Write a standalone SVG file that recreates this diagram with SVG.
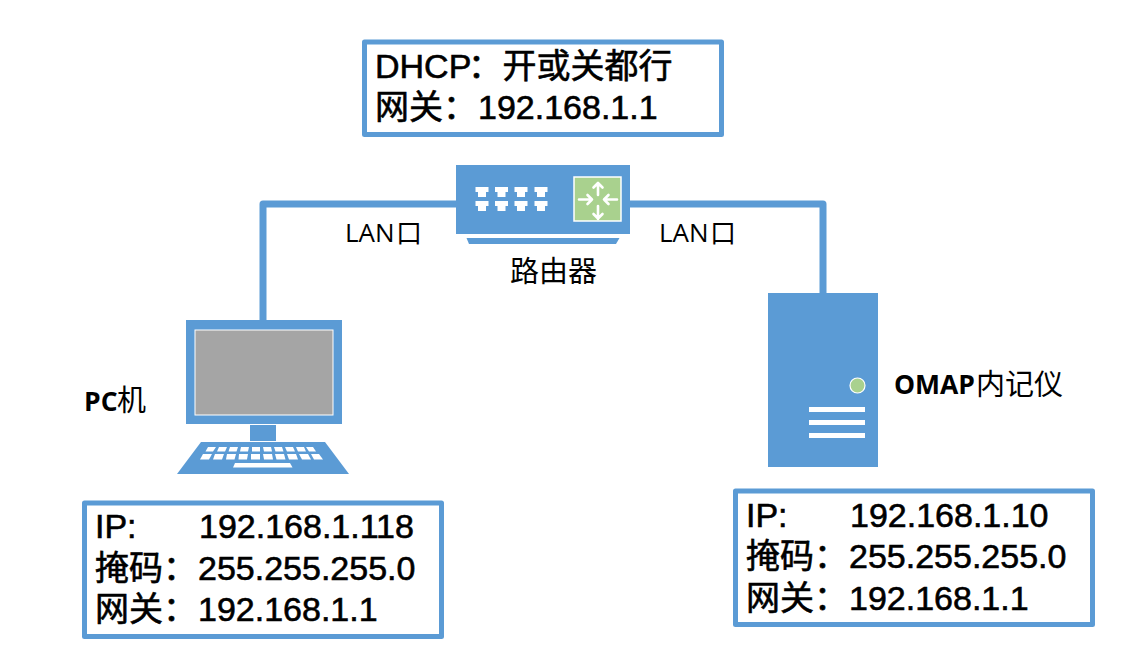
<svg xmlns="http://www.w3.org/2000/svg" width="1140" height="661" viewBox="0 0 1140 661">
<defs>
<style>
.box{fill:#fff;stroke:#5b9bd5;stroke-width:5;stroke-linejoin:round}
.fill{fill:#5b9bd5}
.w{fill:#fff}
.wl{fill:none;stroke:#fff;stroke-width:2.600;stroke-linecap:round;stroke-linejoin:round}
.con{fill:none;stroke:#5b9bd5;stroke-width:7;stroke-linejoin:round}
text{font-family:"Liberation Sans","Noto Sans CJK SC",sans-serif;fill:#000}
.big{font-size:34px;stroke:#000;stroke-width:.6}
.lab{font-size:26px;font-family:"Open Sans","Noto Sans CJK SC",sans-serif}
.cjk{font-size:29px;font-family:"Noto Sans CJK SC",sans-serif;font-weight:400}
.sq{font-size:26px}
.lb{font-weight:bold;font-size:26.500px}
</style>
<path id="port" d="M0 0H13V5H10.500V10H2.500V5H0Z" class="w"/>
</defs>
<rect width="1140" height="661" fill="#fff"/>
<g id="connectors">
<path class="con" d="M263 322V204H458"/>
<path class="con" d="M628 204H823V295"/>
</g>
<g id="dhcp-box">
<rect class="box" x="364.500" y="42" width="357" height="92.500"/>
<text class="big" x="375" y="78">DHCP<tspan x="468">：</tspan><tspan x="502.500">开或关都行</tspan></text>
<text class="big" x="375" y="119">网关<tspan x="443">：</tspan><tspan x="478">192.168.1.1</tspan></text>
</g>
<g id="router">
<rect class="fill" x="456" y="165" width="174" height="69"/>
<path class="fill" d="M466.500 238H619.500L616 244H469Z"/>
<use href="#port" x="475.500" y="187"/><use href="#port" x="495" y="187"/><use href="#port" x="514.500" y="187"/><use href="#port" x="534.500" y="187"/>
<use href="#port" x="475.500" y="201"/><use href="#port" x="495" y="201"/><use href="#port" x="514.500" y="201"/><use href="#port" x="534.500" y="201"/>
<rect x="574" y="177" width="47" height="44" fill="#a9d18e" stroke="#fff" stroke-width="1.500"/>
<path class="wl" d="M598 183V195M593.500 187.500L598 183L602.500 187.500M598 219V206M593.500 214L598 218.500L602.500 214M579 199.500H592M587.500 195L592 199.500L587.500 204M617 199.500H604M608.500 195L604 199.500L608.500 204"/>
<text class="cjk" x="510" y="282">路由器</text>
</g>
<g id="lan-labels">
<text class="lab" x="345" y="242">LAN<tspan class="cjk sq" x="396" y="243">口</tspan></text>
<text class="lab" x="659" y="242">LAN<tspan class="cjk sq" x="710" y="243">口</tspan></text>
</g>
<g id="pc">
<rect class="fill" x="186" y="320" width="156" height="104"/>
<rect x="195" y="330" width="138" height="85" fill="#a5a5a5" stroke="#fff" stroke-width="1"/>
<rect class="fill" x="250" y="425" width="26" height="16"/>
<path class="fill" d="M201 442H325L349 474H177Z"/>
<g class="w">
<path d="M208 447H216L213 451.500H205.500Z"/><path d="M219 447H227L225 451.500H217Z"/><path d="M230 447H238L236.500 451.500H228.500Z"/><path d="M241 447H249L248 451.500H240Z"/><path d="M252 447H260L260 451.500H252Z"/><path d="M263 447H271L272 451.500H264Z"/><path d="M274 447H282L283.500 451.500H275.500Z"/><path d="M285 447H293L295 451.500H287Z"/><path d="M296 447H304L306 451.500H298Z"/><path d="M306 447H313L316 451.500H309Z"/>
<path d="M203 454H212L209 459.500H200Z"/><path d="M215 454H224L222 459.500H213Z"/><path d="M227 454H236L234.500 459.500H226Z"/><path d="M239 454H248L247 459.500H238.500Z"/><path d="M251 454H260L260 459.500H251Z"/><path d="M263 454H272L273 459.500H264Z"/><path d="M275 454H284L285.500 459.500H276.500Z"/><path d="M287 454H296L298 459.500H289Z"/><path d="M299 454H308L311 459.500H302Z"/><path d="M311 454H319L323 459.500H314Z"/>
<path d="M235 463H290L292.500 467.500H233Z"/>
</g>
<text class="lab lb" x="84" y="411">PC<tspan class="cjk" x="117" y="411">机</tspan></text>
</g>
<g id="pc-box">
<rect class="box" x="84.500" y="503" width="357" height="133.500"/>
<text class="big" x="95" y="538">IP:</text>
<text class="big" x="199" y="538">192.168.1.118</text>
<text class="big" x="95" y="580">掩码<tspan x="163">：</tspan><tspan x="198">255.255.255.0</tspan></text>
<text class="big" x="95" y="621">网关<tspan x="163">：</tspan><tspan x="198">192.168.1.1</tspan></text>
</g>
<g id="omap">
<rect class="fill" x="768" y="293" width="110" height="174"/>
<circle cx="857.500" cy="385.500" r="7.500" fill="#a9d18e" stroke="#fff" stroke-width="1.200"/>
<rect class="w" x="809" y="407" width="56" height="5"/>
<rect class="w" x="809" y="420" width="56" height="5"/>
<rect class="w" x="809" y="433" width="56" height="5"/>
<text class="lab lb" x="894" y="394">OMAP<tspan class="cjk" x="976" y="395">内记仪</tspan></text>
</g>
<g id="omap-box">
<rect class="box" x="735.500" y="491" width="357" height="133.500"/>
<text class="big" x="746" y="527">IP:</text>
<text class="big" x="850" y="527">192.168.1.10</text>
<text class="big" x="746" y="568">掩码<tspan x="814">：</tspan><tspan x="849">255.255.255.0</tspan></text>
<text class="big" x="746" y="610">网关<tspan x="814">：</tspan><tspan x="849">192.168.1.1</tspan></text>
</g>
</svg>
